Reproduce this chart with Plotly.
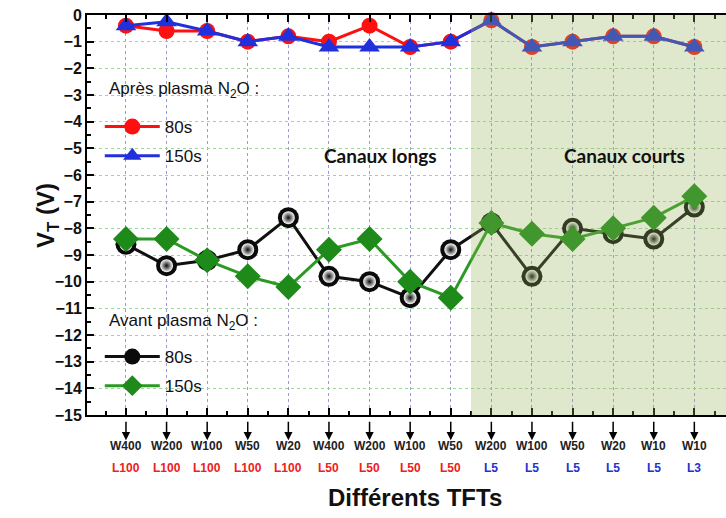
import plotly.graph_objects as go

# ---- data ----
w_labels = ["W400", "W200", "W100", "W50", "W20", "W400", "W200", "W100", "W50",
            "W200", "W100", "W50", "W20", "W10", "W10"]
l_labels = ["L100", "L100", "L100", "L100", "L100", "L50", "L50", "L50", "L50",
            "L5", "L5", "L5", "L5", "L5", "L3"]
apres_80s = [-0.4, -0.6, -0.6, -1.0, -0.8, -1.0, -0.4, -1.2, -1.0,
             -0.2, -1.2, -1.0, -0.8, -0.8, -1.2]
apres_150s = [-0.4, -0.25, -0.6, -1.0, -0.8, -1.2, -1.2, -1.2, -1.0,
              -0.2, -1.2, -1.0, -0.8, -0.8, -1.2]
avant_80s = [-8.6, -9.4, -9.2, -8.8, -7.6, -9.8, -10.0, -10.6, -8.8,
             -7.8, -9.8, -8.0, -8.2, -8.4, -7.2]
avant_150s = [-8.4, -8.4, -9.2, -9.8, -10.2, -8.8, -8.4, -10.0, -10.6,
              -7.8, -8.2, -8.4, -8.0, -7.6, -6.8]
short_start = 8.5  # boundary between long and short channels

x = list(range(len(w_labels)))
FONT = "Liberation Sans, Arial, sans-serif"

fig = go.Figure()

fig.add_trace(go.Scatter(
    x=x, y=apres_80s, mode="lines+markers", name="80s", legend="legend",
    legendgroup="a80",
    line=dict(color="#ff1010", width=3),
    marker=dict(symbol="circle", size=16, color="#ff1010"), cliponaxis=False))
fig.add_trace(go.Scatter(
    x=x, y=apres_150s, mode="lines+markers", name="150s", legend="legend",
    legendgroup="a150",
    line=dict(color="#2030dd", width=3),
    marker=dict(symbol="triangle-up", size=18, color="#2030dd"), cliponaxis=False))
fig.add_trace(go.Scatter(
    x=x, y=avant_80s, mode="lines+markers", name="80s", legend="legend2",
    legendgroup="b80",
    line=dict(color="#101010", width=3),
    marker=dict(symbol="circle", size=21, color="#0a0a0a",
                line=dict(width=0)), cliponaxis=False))
# sphere highlight (same data, small glossy centre)
fig.add_trace(go.Scatter(
    x=x, y=avant_80s, mode="markers", showlegend=False, hoverinfo="skip",
    marker=dict(symbol="circle", size=13, color="#ffffff",
                gradient=dict(type="radial", color="#0a0a0a"),
                line=dict(width=0)), cliponaxis=False))
fig.add_trace(go.Scatter(
    x=x, y=avant_150s, mode="lines+markers", name="150s", legend="legend2",
    legendgroup="b150",
    line=dict(color="#2a9a22", width=3),
    marker=dict(symbol="diamond", size=20, color="#1e8a1a"), cliponaxis=False))

# shaded region for short channels (overlay)
fig.add_shape(type="rect", xref="x", yref="paper", x0=short_start, x1=20,
              y0=0, y1=1, fillcolor="rgba(150,180,90,0.30)", line_width=0,
              layer="above")

ann = []
for i, (w, l) in enumerate(zip(w_labels, l_labels)):
    ann.append(dict(x=i, y=-0.063, xref="x", yref="paper", text="", showarrow=True,
                    ax=0, ay=-20, arrowhead=2, arrowsize=1.1, arrowwidth=1.5,
                    arrowcolor="black"))
    ann.append(dict(x=i, y=-0.1, xref="x", yref="paper", text="<b>%s</b>" % w,
                    showarrow=False, font=dict(family=FONT, size=12, color="#222")))
    col = "#ee2020" if l in ("L100", "L50") else "#2233cc"
    ann.append(dict(x=i, y=-0.155, xref="x", yref="paper", text="<b>%s</b>" % l,
                    showarrow=False, font=dict(family=FONT, size=12, color=col)))

ann.append(dict(x=0.513, y=-0.205, xref="paper", yref="paper",
                text="<b>Différents TFTs</b>", showarrow=False, yanchor="middle",
                font=dict(family=FONT, size=24, color="#111")))
ann.append(dict(x=-0.09, y=0.5, xref="paper", yref="paper", textangle=-90,
                text="<b>V<sub>T</sub> (V)</b>", showarrow=False,
                font=dict(family=FONT, size=24, color="#111")))
ann.append(dict(x=6.28, y=-5.26, xref="x", yref="y", text="<b>Canaux longs</b>",
                showarrow=False, font=dict(family="Lato, sans-serif", size=19, color="#111")))
ann.append(dict(x=12.29, y=-5.26, xref="x", yref="y", text="<b>Canaux courts</b>",
                showarrow=False, font=dict(family="Lato, sans-serif", size=19, color="#111")))
# legend headers
ann.append(dict(x=0.032, y=0.8125, xref="paper", yref="paper", xanchor="left",
                yanchor="middle",
                text="Après plasma N<sub>2</sub>O :", showarrow=False,
                font=dict(family=FONT, size=17, color="#111")))
ann.append(dict(x=0.032, y=0.2325, xref="paper", yref="paper", xanchor="left",
                yanchor="middle",
                text="Avant plasma N<sub>2</sub>O :", showarrow=False,
                font=dict(family=FONT, size=17, color="#111")))

fig.update_layout(
    width=726, height=518,
    margin=dict(l=87, r=0, t=15, b=103),
    paper_bgcolor="white", plot_bgcolor="white",
    font=dict(family=FONT, color="#111"),
    annotations=ann,
    legend=dict(x=0.02, y=0.765, xanchor="left", yanchor="top",
                traceorder="grouped", tracegroupgap=4, itemwidth=55,
                bgcolor="rgba(0,0,0,0)", font=dict(size=17)),
    legend2=dict(x=0.02, y=0.19, xanchor="left", yanchor="top",
                 traceorder="grouped", tracegroupgap=4, itemwidth=55,
                 bgcolor="rgba(0,0,0,0)", font=dict(size=17)),
    xaxis=dict(range=[-0.96, 14.78], tickvals=x, showticklabels=False,
               ticks="inside", ticklen=7, tickwidth=2, tickcolor="black",
               showline=True, linecolor="black", linewidth=2, mirror="ticks",
               showgrid=True, gridcolor="#9a9ad8", griddash="dot", gridwidth=1,
               minor=dict(dtick=0.5, tick0=0.5, ticks="inside", ticklen=4,
                          tickcolor="black", tickwidth=2, showgrid=False),
               zeroline=False),
    yaxis=dict(range=[-15, 0], dtick=1, tick0=0,
               ticks="inside", ticklen=7, tickwidth=2, tickcolor="black",
               showline=True, linecolor="black", linewidth=2,
               showgrid=True, gridcolor="#9ad89a", griddash="dot", gridwidth=1,
               minor=dict(dtick=0.5, ticks="inside", ticklen=4,
                          tickcolor="black", tickwidth=2, showgrid=False),
               tickfont=dict(family=FONT, size=16, color="#111"),
               tickprefix="<b>", ticksuffix="</b>",
               zeroline=False),
)

fig.write_html("out.html", config={"displayModeBar": False},
               post_script="document.body.style.margin='0';")
